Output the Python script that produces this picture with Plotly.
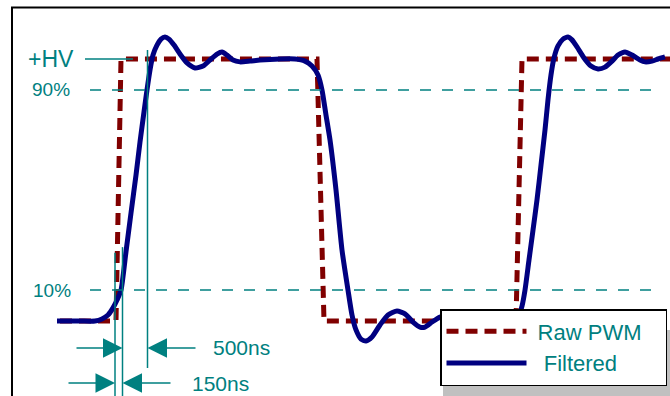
import plotly.graph_objects as go

# ---- data (time in ns relative to raw PWM rising edge, level in % of +HV) ----
raw_t = [-1100, 20, 120, 4040, 4180, 8020, 8140, 11100]
raw_v = [0, 0, 100, 100, 0, 0, 100, 100]

filt_t = [-1160, -700, -400, -260, -140, -40, 40, 120, 220, 320, 420, 500, 580, 640,
          700, 760, 840, 920, 1000, 1080, 1180, 1300, 1440, 1600, 1760, 1920, 2040,
          2140, 2240, 2360, 2500, 2700, 2900, 3300, 3600, 3800, 3940, 4060, 4140,
          4220, 4300, 4420, 4540, 4660, 4740, 4820, 4920, 5020, 5140, 5300, 5460,
          5640, 5800, 5960, 6100, 6200, 6340, 6500, 6700, 7100, 7700, 8000, 8100,
          8140, 8200, 8280, 8360, 8440, 8520, 8600, 8660, 8720, 8780, 8860, 8960,
          9060, 9140, 9240, 9380, 9520, 9660, 9800, 9940, 10060, 10200, 10340,
          10500, 10600, 10740, 10860, 11000]
filt_v = [0, 0, 0, 0.8, 2.3, 5.0, 8.0, 11.8, 26.5, 41.2, 55.7, 68.3, 79.8, 88.2,
          95.8, 101.5, 105.3, 107.6, 108.4, 107.6, 105.3, 101.9, 98.5, 96.6, 97.3,
          100, 101.9, 102.7, 101.5, 99.6, 98.9, 99.2, 99.6, 100, 100, 99.2, 97.3,
          93.9, 88.2, 78.6, 69.1, 50.0, 27.1, 11.8, 2.3, -3.4, -6.9, -7.6, -6.1,
          -1.5, 2.3, 3.8, 2.7, -0.4, -2.3, -2.3, -0.4, 1.5, 2.3, 2.3, 1.9, 2.3,
          3.4, 5.7, 11.8, 23.3, 34.7, 46.2, 59.5, 72.9, 84.4, 93.9, 100.4, 105.0,
          107.6, 108.4, 107.3, 104.6, 100.4, 97.3, 96.2, 96.9, 99.2, 101.5, 102.7,
          101.5, 99.6, 98.9, 99.2, 100, 100.8]

level_labels = ["+HV", "90%", "10%"]
level_values = [100, 88.2, 11.8]
t_rise_start = 0      # raw PWM edge
t_150 = 150           # 150 ns later
t_500 = 650           # 500 ns after that
timing_labels = ["500ns", "150ns"]
series_names = ["\u00a0Raw PWM\u00a0\u00a0\u00a0", "\u00a0\u00a0Filtered"]

TEAL = "#008080"
RED = "#800000"
BLUE = "#000080"
FONT = "Arial, Liberation Sans, sans-serif"

fig = go.Figure()

fig.add_trace(go.Scatter(x=raw_t, y=raw_v, mode="lines", name=series_names[0],
                         line=dict(color=RED, width=5, dash="12px,7px")))
fig.add_trace(go.Scatter(x=filt_t, y=filt_v, mode="lines", name=series_names[1],
                         line=dict(color=BLUE, width=5, shape="spline", smoothing=0.6)))

# guide lines
guide = dict(mode="lines", showlegend=False, hoverinfo="skip")
fig.add_trace(go.Scatter(x=[-600, 360], y=[level_values[0]] * 2,
                         line=dict(color=TEAL, width=1.5), **guide))
for lv in level_values[1:]:
    fig.add_trace(go.Scatter(x=[-500, 10900], y=[lv, lv],
                             line=dict(color=TEAL, width=1.5, dash="11px,11px"), **guide))
fig.add_trace(go.Scatter(x=[t_500, t_500], y=[103.4, -17.9],
                         line=dict(color=TEAL, width=1.5), **guide))
fig.add_trace(go.Scatter(x=[t_rise_start, t_rise_start], y=[26, -30],
                         line=dict(color=TEAL, width=1.5), **guide))
fig.add_trace(go.Scatter(x=[t_150, t_150], y=[28.2, -30],
                         line=dict(color=TEAL, width=1.5), **guide))

annotations = []
# level labels
for lab, lv, tx, fs in zip(level_labels, level_values, [-780, -860, -840], [23, 19, 19]):
    annotations.append(dict(x=tx, y=lv, text=lab, showarrow=False, xanchor="right",
                            yanchor="middle", font=dict(family=FONT, size=fs, color=TEAL)))

# timing arrows
def arrow(x, y, ax):
    return dict(x=x, y=y, ax=ax, ay=y, axref="x", ayref="y", xref="x", yref="y",
                showarrow=True, arrowhead=2, arrowsize=2.6, arrowwidth=1.5,
                arrowcolor=TEAL, text="")

y500, y150 = -10.3, -23.7
annotations += [arrow(t_150, y500, -800), arrow(t_500, y500, 1640),
                arrow(t_rise_start, y150, -960), arrow(t_150, y150, 1140)]
annotations.append(dict(x=1920, y=y500, text=timing_labels[0], showarrow=False,
                        xanchor="left", yanchor="middle",
                        font=dict(family=FONT, size=21, color=TEAL)))
annotations.append(dict(x=1500, y=y150, text=timing_labels[1], showarrow=False,
                        xanchor="left", yanchor="middle",
                        font=dict(family=FONT, size=21, color=TEAL)))

W, H = 670, 396
shapes = [
    # outer frame
    dict(type="rect", xref="paper", yref="paper", x0=12 / W, y0=-0.05, x1=1.05,
         y1=1 - 7.5 / H, line=dict(color="black", width=2), layer="below"),
    # legend shadow
    dict(type="rect", xref="paper", yref="paper", x0=443 / W, y0=-0.05, x1=1.05,
         y1=1 - 330 / H, fillcolor="#C0C0C0", line=dict(width=0), layer="above"),
]

fig.update_layout(
    width=W, height=H, margin=dict(l=0, r=0, t=0, b=0, pad=0),
    paper_bgcolor="white", plot_bgcolor="white",
    xaxis=dict(range=[-2300, 11100], visible=False, fixedrange=True),
    yaxis=dict(range=[-28.63, 122.52], visible=False, fixedrange=True),
    showlegend=True,
    legend=dict(x=440 / W, y=1 - 309 / H, xanchor="left", yanchor="top",
                bgcolor="white", bordercolor="black", borderwidth=1.5,
                font=dict(family=FONT, size=22, color=TEAL), itemwidth=80,
                tracegroupgap=0),
    annotations=annotations, shapes=shapes,
)

fig.write_html("out.html", config={"displayModeBar": False},
               post_script="document.body.style.margin='0';document.body.style.overflow='hidden';")
